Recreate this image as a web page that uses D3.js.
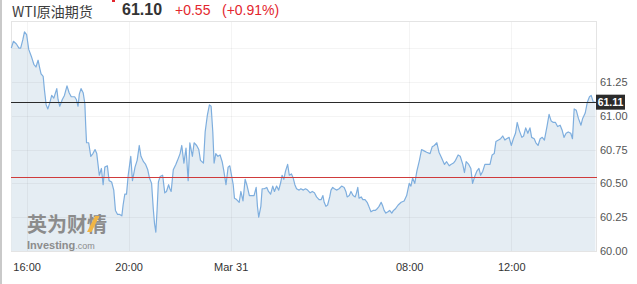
<!DOCTYPE html>
<html>
<head>
<meta charset="utf-8">
<script src="https://cdn.jsdelivr.net/npm/d3@7"></script>
<style>
  html, body { margin: 0; padding: 0; background: #fff; }
  svg { display: block; }
</style>
</head>
<body>
<div id="chart"></div>
<script>
const title = 'WTI原油期货'
const lastPrice = '61.10'
const change = '+0.55'
const changePct = '(+0.91%)'
const priceTag = '61.11'
const lastLevel = 61.10
const prevClose = 60.55

// intraday quotes, Mar 30 15:24 -> Mar 31 15:18 (clock time)
const times = [
  '15:24', '15:29', '15:36', '15:42', '15:46', '15:51', '15:55', '16:00', '16:05', '16:11',
  '16:17', '16:22', '16:27', '16:31', '16:34', '16:39', '16:42', '16:46', '16:50', '16:55',
  '16:59', '17:04', '17:11', '17:14', '17:18', '17:24', '17:29', '17:35', '17:40', '17:45',
  '17:53', '17:57', '18:01', '18:04', '18:08', '18:13', '18:17', '18:19', '18:21', '18:26',
  '18:31', '18:36', '18:41', '18:45', '18:48', '18:51', '18:56', '19:00', '19:04', '19:10',
  '19:14', '19:20', '19:25', '19:29', '19:34', '19:39', '19:44', '19:47', '19:51', '19:55',
  '19:59', '20:05', '20:09', '20:15', '20:20', '20:25', '20:29', '20:35', '20:40', '20:45',
  '20:49', '20:54', '20:58', '21:01', '21:04', '21:07', '21:10', '21:14', '21:20', '21:25',
  '21:29', '21:34', '21:37', '21:40', '21:45', '21:51', '21:55', '22:01', '22:05', '22:10',
  '22:15', '22:20', '22:24', '22:30', '22:34', '22:40', '22:45', '22:49', '22:56', '23:00',
  '23:05', '23:10', '23:14', '23:18', '23:21', '23:25', '23:30', '23:35', '23:40', '23:44',
  '23:49', '23:54', '23:58', '00:02', '00:06', '00:09', '00:14', '00:20', '00:24', '00:29',
  '00:34', '00:38', '00:44', '00:49', '00:55', '01:00', '01:03', '01:06', '01:11', '01:14',
  '01:19', '01:25', '01:29', '01:34', '01:39', '01:43', '01:48', '01:53', '01:58', '02:01',
  '02:05', '02:09', '02:14', '02:18', '02:23', '02:27', '02:31', '02:35', '02:41', '02:45',
  '02:51', '02:56', '03:01', '03:07', '03:12', '03:17', '03:22', '03:28', '03:33', '03:37',
  '03:40', '03:44', '03:48', '03:53', '03:56', '04:00', '04:04', '04:09', '04:15', '04:21',
  '04:27', '04:31', '04:34', '04:39', '04:43', '04:48', '04:53', '04:56', '04:59', '06:02',
  '06:07', '06:11', '06:16', '06:21', '06:25', '06:30', '06:35', '06:40', '06:44', '06:49',
  '06:54', '06:58', '07:01', '07:05', '07:10', '07:14', '07:19', '07:23', '07:27', '07:34',
  '07:41', '07:48', '07:54', '08:00', '08:04', '08:08', '08:13', '08:18', '08:24', '08:29',
  '08:35', '08:41', '08:49', '08:54', '08:59', '09:05', '09:10', '09:16', '09:23', '09:28',
  '09:34', '09:38', '09:44', '09:49', '09:55', '10:00', '10:06', '10:10', '10:14', '10:20',
  '10:25', '10:29', '10:34', '10:39', '10:44', '10:48', '10:53', '10:58', '11:05', '11:10',
  '11:15', '11:20', '11:24', '11:30', '11:35', '11:40', '11:45', '11:49', '11:55', '12:00',
  '12:05', '12:10', '12:14', '12:19', '12:25', '12:29', '12:34', '12:39', '12:44', '12:48',
  '12:54', '12:58', '13:03', '13:08', '13:13', '13:18', '13:24', '13:29', '13:34', '13:39',
  '13:44', '13:49', '13:55', '14:00', '14:04', '14:09', '14:14', '14:20', '14:24', '14:28',
  '14:33', '14:38', '14:44', '14:48', '14:54', '14:59', '15:04', '15:08', '15:13', '15:18'
]
const prices = [
  61.50, 61.55, 61.53, 61.50, 61.50, 61.56, 61.62, 61.60, 61.49, 61.44,
  61.38, 61.36, 61.41, 61.35, 61.31, 61.29, 61.19, 61.08, 61.05, 61.10,
  61.15, 61.13, 61.20, 61.12, 61.07, 61.12, 61.15, 61.22, 61.17, 61.14,
  61.14, 61.12, 61.07, 61.16, 61.20, 61.17, 61.09, 60.93, 60.80, 60.80,
  60.70, 60.72, 60.75, 60.72, 60.64, 60.56, 60.61, 60.49, 60.62, 60.63,
  60.52, 60.51, 60.45, 60.30, 60.27, 60.27, 60.26, 60.34, 60.42, 60.42,
  60.56, 60.70, 60.52, 60.62, 60.67, 60.78, 60.70, 60.66, 60.64, 60.60,
  60.54, 60.50, 60.31, 60.20, 60.14, 60.31, 60.51, 60.55, 60.56, 60.43,
  60.44, 60.49, 60.46, 60.44, 60.60, 60.64, 60.67, 60.72, 60.78, 60.65,
  60.76, 60.52, 60.80, 60.70, 60.80, 60.78, 60.75, 60.67, 60.65, 60.88,
  61.00, 61.08, 61.07, 60.88, 60.65, 60.72, 60.70, 60.71, 60.66, 60.59,
  60.49, 60.62, 60.63, 60.56, 60.49, 60.39, 60.38, 60.36, 60.44, 60.37,
  60.53, 60.49, 60.41, 60.41, 60.41, 60.47, 60.33, 60.25, 60.33, 60.46,
  60.46, 60.47, 60.44, 60.42, 60.48, 60.44, 60.48, 60.45, 60.51, 60.56,
  60.53, 60.59, 60.64, 60.56, 60.57, 60.54, 60.49, 60.46, 60.45, 60.46,
  60.45, 60.46, 60.45, 60.43, 60.44, 60.43, 60.40, 60.38, 60.38, 60.41,
  60.36, 60.33, 60.34, 60.40, 60.45, 60.47, 60.46, 60.45, 60.46, 60.48,
  60.47, 60.44, 60.40, 60.41, 60.44, 60.41, 60.40, 60.43, 60.47, 60.39,
  60.40, 60.38, 60.38, 60.36, 60.33, 60.29, 60.30, 60.30, 60.31, 60.33,
  60.36, 60.33, 60.30, 60.28, 60.29, 60.30, 60.28, 60.30, 60.31, 60.34,
  60.36, 60.37, 60.41, 60.50, 60.48, 60.54, 60.50, 60.59, 60.67, 60.75,
  60.74, 60.73, 60.72, 60.77, 60.78, 60.80, 60.73, 60.69, 60.64, 60.66,
  60.63, 60.64, 60.65, 60.67, 60.71, 60.70, 60.64, 60.58, 60.66, 60.64,
  60.61, 60.50, 60.55, 60.59, 60.61, 60.56, 60.59, 60.64, 60.64, 60.64,
  60.71, 60.72, 60.81, 60.82, 60.83, 60.85, 60.82, 60.83, 60.84, 60.78,
  60.83, 60.87, 60.95, 60.89, 60.84, 60.85, 60.91, 60.87, 60.91, 60.84,
  60.83, 60.80, 60.78, 60.83, 60.84, 60.82, 60.92, 61.01, 60.96, 60.95,
  60.95, 60.92, 60.93, 60.89, 60.84, 60.87, 60.88, 60.87, 60.83, 61.05,
  61.04, 60.98, 60.93, 60.98, 61.02, 61.10, 61.14, 61.15, 61.10, 61.10
]

const xTickTimes = ['16:00', '20:00', '00:00', '08:00', '12:00']
const xTickLabels = ['16:00', '20:00', 'Mar 31', '08:00', '12:00']
const yTicks = [60, 60.25, 60.5, 60.75, 61, 61.25]
const yGrid = [60.25, 60.5, 60.75, 61, 61.25, 61.5]
const yDomain = [60, 61.7]
const sessionEnd = '15:21'
// daily break 05:00-06:00, minutes counted from 16:00 of day 0
const breakStart = 780
const breakLen = 60

const width = 637
const height = 284
const plot = { left: 11, right: 597, top: 21, bottom: 251 }

function toMinutes(str, day) {
  const [h, m] = str.split(':').map(Number)
  const wall = day * 1440 + h * 60 + m - 960
  return wall >= breakStart + breakLen ? wall - breakLen : wall
}

// walk a clock-time list, rolling the day over at midnight
function seqMinutes(list) {
  let day = 0
  let prev = -1
  return list.map(t => {
    const [h, m] = t.split(':').map(Number)
    const v = h * 60 + m
    if (v < prev) day += 1
    prev = v
    return toMinutes(t, day)
  })
}

const mins = seqMinutes(times)
const data = mins.map((m, i) => ({ m, v: prices[i] }))
const tickMins = seqMinutes(xTickTimes)

const xScale = d3.scaleLinear()
  .domain([mins[0], toMinutes(sessionEnd, 1)])
  .range([plot.left + 0.3, plot.right - 0.3])
const yScale = d3.scaleLinear().domain(yDomain).range([plot.bottom, plot.top])

const svg = d3.select('#chart')
  .append('svg')
  .attr('width', width)
  .attr('height', height)
  .style('font-family', '"Liberation Sans", Arial, sans-serif')

// outer left border
svg.append('rect')
  .attr('x', 0).attr('y', 0)
  .attr('width', 2).attr('height', height)
  .style('fill', '#c9c9c9')

// header
const head = svg.append('g')
head.append('text')
  .attr('x', 12).attr('y', 16.5)
  .style('font-family', '"Noto Sans CJK SC", "Liberation Sans", sans-serif')
  .style('font-size', '14px')
  .style('fill', '#3d3d3d')
  .text(title)
head.append('rect')
  .attr('x', 112).attr('y', 0)
  .attr('width', 3).attr('height', 2)
  .style('fill', '#e3262e')
head.append('text')
  .attr('x', 122).attr('y', 14.5)
  .style('font-size', '16px')
  .style('font-weight', 'bold')
  .style('fill', '#333')
  .text(lastPrice)
head.append('text')
  .attr('x', 175).attr('y', 14.5)
  .style('font-size', '14px')
  .style('fill', '#e3262e')
  .text(change)
head.append('text')
  .attr('x', 222).attr('y', 14.5)
  .style('font-size', '14px')
  .style('fill', '#e3262e')
  .text(changePct)

// plot frame
svg.append('rect')
  .attr('x', plot.left + 0.5).attr('y', plot.top + 0.5)
  .attr('width', plot.right - plot.left - 1)
  .attr('height', plot.bottom - plot.top)
  .style('fill', '#fff')
  .style('stroke', '#e4e4e4')

const g = svg.append('g')

// area
const area = d3.area()
  .x(d => xScale(d.m))
  .y0(yScale(yDomain[0]))
  .y1(d => yScale(d.v))
g.append('path')
  .datum(data)
  .attr('d', area)
  .style('fill', '#e5edf3')

// grid
g.append('g').selectAll('line.h').data(yGrid).enter()
  .append('line')
  .attr('x1', plot.left + 1).attr('x2', plot.right - 1)
  .attr('y1', d => Math.round(yScale(d)) + 0.5)
  .attr('y2', d => Math.round(yScale(d)) + 0.5)
  .style('stroke', 'rgba(0,0,0,0.045)')
g.append('g').selectAll('line.v').data(tickMins).enter()
  .append('line')
  .attr('x1', d => Math.round(xScale(d)) + 0.5)
  .attr('x2', d => Math.round(xScale(d)) + 0.5)
  .attr('y1', plot.top + 1).attr('y2', plot.bottom)
  .style('stroke', 'rgba(0,0,0,0.045)')

// watermark
const wm = svg.append('g')
wm.append('text')
  .attr('x', 27).attr('y', 232)
  .style('font-family', '"Noto Sans CJK SC", sans-serif')
  .style('font-size', '20px')
  .style('font-weight', 'bold')
  .style('fill', '#8c8c8c')
  .text('英为财情')
wm.append('path')
  .attr('d', 'M87,232 L91.5,232 L99.5,216 L95,216 Z')
  .style('fill', '#f0b545')
const wmText = wm.append('text')
  .attr('x', 27).attr('y', 248.5)
  .style('fill', '#8c8c8c')
wmText.append('tspan')
  .style('font-size', '11px')
  .style('font-weight', 'bold')
  .text('Investing')
wmText.append('tspan')
  .style('font-size', '9px')
  .text('.com')

// price line
const line = d3.line()
  .x(d => xScale(d.m))
  .y(d => yScale(d.v))
g.append('path')
  .datum(data)
  .attr('d', line)
  .style('fill', 'none')
  .style('stroke', '#7eaede')
  .style('stroke-width', 1.2)
  .style('stroke-linejoin', 'round')

// reference lines
g.append('line')
  .attr('x1', plot.left).attr('x2', plot.right)
  .attr('y1', Math.round(yScale(prevClose)) + 0.5)
  .attr('y2', Math.round(yScale(prevClose)) + 0.5)
  .style('stroke', '#cf3b3b')
g.append('line')
  .attr('x1', plot.left).attr('x2', plot.right)
  .attr('y1', Math.round(yScale(lastLevel)) + 0.5)
  .attr('y2', Math.round(yScale(lastLevel)) + 0.5)
  .style('stroke', '#2a2a2a')

// y axis
const yAxis = d3.axisRight(yScale)
  .tickValues(yTicks)
  .tickSize(0)
  .tickPadding(3)
  .tickFormat(d3.format('.2f'))
const yAxisg = svg.append('g')
  .attr('transform', `translate(${plot.right}, 0)`)
  .call(yAxis)
yAxisg.select('.domain').remove()
yAxisg.selectAll('text')
  .style('font-size', '11px')
  .style('fill', '#555')
  .style('font-family', '"Liberation Sans", Arial, sans-serif')

// last price tag
const tagY = yScale(lastLevel)
svg.append('rect')
  .attr('x', plot.right - 1).attr('y', tagY - 7.5)
  .attr('width', 29).attr('height', 15)
  .style('fill', '#2b2b2b')
svg.append('text')
  .attr('x', plot.right + 13.5).attr('y', tagY)
  .attr('dy', '0.35em')
  .attr('text-anchor', 'middle')
  .style('font-size', '10.5px')
  .style('font-weight', 'bold')
  .style('fill', '#fff')
  .text(priceTag)

// x axis
const xAxis = d3.axisBottom(xScale)
  .tickValues(tickMins)
  .tickSize(0)
  .tickPadding(12)
  .tickFormat((d, i) => xTickLabels[i])
const xAxisg = svg.append('g')
  .attr('transform', `translate(0, ${plot.bottom})`)
  .call(xAxis)
xAxisg.select('.domain').remove()
xAxisg.selectAll('text')
  .style('font-size', '11px')
  .style('fill', '#333')
  .style('font-family', '"Liberation Sans", Arial, sans-serif')
</script>
</body>
</html>
